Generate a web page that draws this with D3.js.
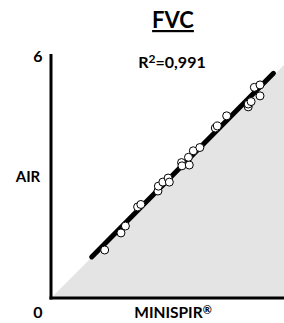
<!DOCTYPE html>
<html>
<head>
<meta charset="utf-8">
<script src="https://cdn.jsdelivr.net/npm/d3@7"></script>
<style>
  body { margin: 0; background: #fff; }
  text { font-family: Lato, "Open Sans", sans-serif; font-weight: bold; fill: #000; }
</style>
</head>
<body>
<div id="chart"></div>
<script>
// MINISPIR (x) vs AIR (y), litres
var minispir = [1.32, 1.72, 1.83, 2.13, 2.21, 2.63, 2.64, 2.75, 2.88, 2.91,
                3.21, 3.22, 3.40, 3.38, 3.50, 3.66, 4.04, 4.09, 4.32, 4.85,
                4.85, 4.92, 5.00, 5.14, 5.14];
var air      = [1.18, 1.60, 1.77, 2.24, 2.30, 2.63, 2.75, 2.85, 2.95, 2.85,
                3.33, 3.25, 3.27, 3.46, 3.62, 3.70, 4.18, 4.23, 4.48, 4.70,
                4.77, 4.83, 5.18, 5.24, 4.97];
var fitX = [1.0, 5.47];      // regression line extent
var fitSlope = 1.01;
var fitIntercept = 0.0;
var axisTicks = [0, 6];
var rSquared = "0,991";

document.addEventListener("DOMContentLoaded", function() {
    var w = 284, h = 323;
    var left = 51, bottom = 298, top = 54;

    var svg = d3.select("#chart").append("svg")
                .attr("width", w).attr("height", h);

    var y = d3.scaleLinear().domain([0, 6]).range([bottom, top]);
    var unit = (bottom - top) / 6;
    var x = d3.scaleLinear().domain([0, 6]).range([left, left + 6 * unit]);
    var xmax = x.invert(w);

    // identity line area (gray)
    var tri = [[0, 0], [xmax, xmax], [xmax, 0]];
    svg.append("path")
       .attr("d", d3.line().x(function(d) { return x(d[0]); }).y(function(d) { return y(d[1]); })(tri) + "Z")
       .style("fill", "#e4e4e4");

    // regression line
    svg.append("line")
       .attr("x1", x(fitX[0])).attr("y1", y(fitIntercept + fitSlope * fitX[0]))
       .attr("x2", x(fitX[1])).attr("y2", y(fitIntercept + fitSlope * fitX[1]))
       .style("stroke", "#000").style("stroke-width", 5).style("stroke-linecap", "round");

    // points
    svg.selectAll("circle")
       .data(minispir)
       .enter()
       .append("circle")
       .attr("cx", function(d) { return x(d); })
       .attr("cy", function(d, i) { return y(air[i]); })
       .attr("r", 4)
       .style("fill", "#fff")
       .style("stroke", "#000")
       .style("stroke-width", 1);

    // axes
    svg.append("line")
       .attr("x1", x(0)).attr("y1", y(axisTicks[1]))
       .attr("x2", x(0)).attr("y2", y(0) + 1.5)
       .style("stroke", "#000").style("stroke-width", 3);
    svg.append("line")
       .attr("x1", x(0) - 1.5).attr("y1", y(0))
       .attr("x2", w).attr("y2", y(0))
       .style("stroke", "#000").style("stroke-width", 3);

    // tick labels
    svg.append("text").attr("x", 38).attr("y", y(axisTicks[1]) + 8)
       .attr("text-anchor", "middle").style("font-size", "16px").text(axisTicks[1]);
    svg.append("text").attr("x", 38).attr("y", 318)
       .attr("text-anchor", "middle").style("font-size", "16px").text(axisTicks[0]);

    // axis titles
    svg.append("text").attr("x", 28).attr("y", 182)
       .attr("text-anchor", "middle").style("font-size", "15px").text("AIR");
    var xt = svg.append("text").attr("x", 173).attr("y", 318)
       .attr("text-anchor", "middle").style("font-size", "15.5px");
    xt.append("tspan").text("MINISPIR");
    xt.append("tspan").attr("dy", -4).style("font-size", "11px").text("®");

    // title
    svg.append("text").attr("x", 173).attr("y", 28)
       .attr("text-anchor", "middle").style("font-size", "22px")
       .style("text-decoration", "underline").text("FVC");

    var r2 = svg.append("text").attr("x", 172).attr("y", 68)
       .attr("text-anchor", "middle").style("font-size", "16px");
    r2.append("tspan").text("R");
    r2.append("tspan").attr("dy", -5).style("font-size", "12px").text("2");
    r2.append("tspan").attr("dy", 5).text("=" + rSquared);
});
</script>
</body>
</html>
